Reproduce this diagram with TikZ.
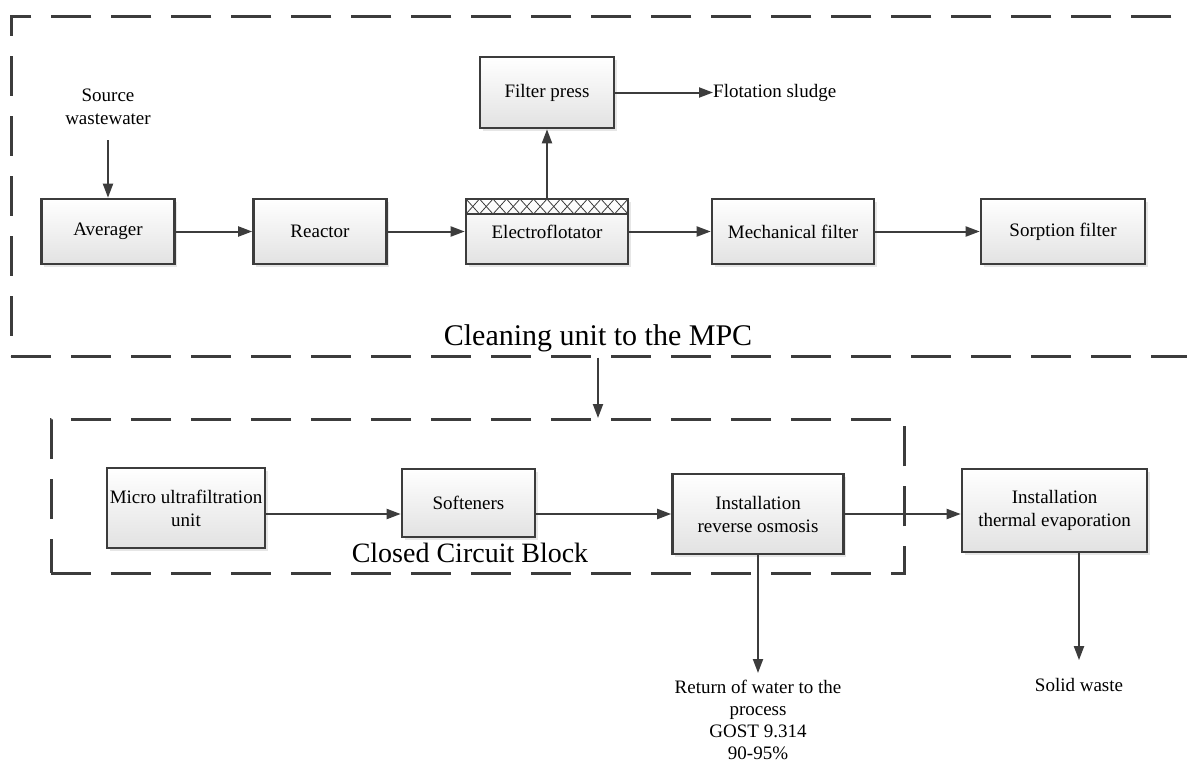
\documentclass[tikz,border=0pt]{standalone}
\usepackage{fontspec}
\setmainfont{Liberation Serif}
\usetikzlibrary{arrows.meta, shadows, positioning}
\definecolor{linegray}{RGB}{60,60,60}
\definecolor{boxgray}{RGB}{226,226,226}
\newcommand{\boxfont}{\fontsize{19}{23}\selectfont}
\newcommand{\zonefont}{\fontsize{28}{32}\selectfont}
\tikzset{
  unit/.style={draw=linegray, line width=2.6pt, top color=white, bottom color=boxgray,
    drop shadow={shadow xshift=2.5pt, shadow yshift=-2.5pt, opacity=.2, fill=gray},
    font=\boxfont, align=center, inner sep=2pt},
  zone/.style={draw=linegray, line width=2.5pt, dash pattern=on 40pt off 20pt,
    anchor=north west, inner sep=0pt},
  flow/.style={draw=linegray, line width=2pt, ->},
  plain/.style={font=\boxfont, align=center, inner sep=1pt}
}
\begin{document}
\begin{tikzpicture}[x=1pt,y=-1pt,>={Triangle[length=14pt,width=10pt]}]
\useasboundingbox (0,0) rectangle (1187,769);
\clip (0,0) rectangle (1187,769);
% dashed regions
\node[zone, minimum width=1220pt, minimum height=340pt] (cleanzone) at (10,15) {};
\node[zone, minimum width=853pt, minimum height=154pt] (closedzone) at (50,418) {};
\node[font=\fontsize{30}{34}\selectfont, inner sep=0pt] (mpc) at (598,338) {Cleaning unit to the MPC};
\node[font=\zonefont, inner sep=0pt] (ccb) at (470,553) {Closed Circuit Block};
% upper line
\node[plain] (source) at (108,107) {Source\\wastewater};
\node[unit, minimum width=133pt, minimum height=65pt] (averager) at (108,231.5) {Averager};
\node[unit, minimum width=133pt, minimum height=65pt] (reactor) at (320,231.5) {Reactor};
\node[unit, minimum width=162pt, minimum height=65pt] (flot) at (547,231.5) {Electroflotator};
\node[unit, minimum width=134pt, minimum height=71pt] (press) at (547,92.5) {Filter press};
\node[plain, anchor=west, inner sep=0pt] (sludge) at (713,92.5) {Flotation sludge};
\node[unit, minimum width=162pt, minimum height=65pt] (mech) at (793,231.5) {Mechanical filter};
\node[unit, minimum width=164pt, minimum height=65pt] (sorp) at (1063,231.5) {Sorption filter};
% hatch band of the electroflotator
\foreach \i in {0,...,11}{
  \draw[linegray, line width=0.8pt] (466+\i*13.5,199) -- ++(13.5,15);
  \draw[linegray, line width=0.8pt] (479.5+\i*13.5,199) -- ++(-13.5,15);
}
\draw[linegray, line width=1.2pt] (466,214) -- (628,214);
% lower line
\node[unit, minimum width=158pt, minimum height=80pt] (micro) at (186,508) {Micro ultrafiltration\\unit};
\node[unit, minimum width=133pt, minimum height=68pt] (soft) at (468.5,503) {Softeners};
\node[unit, minimum width=171pt, minimum height=80pt] (ro) at (758,514) {Installation\\reverse osmosis};
\node[unit, minimum width=185pt, minimum height=83pt] (thermal) at (1054.5,510.5) {Installation\\thermal evaporation};
\node[plain, anchor=north, inner sep=0pt, font=\fontsize{19}{22}\selectfont] (back) at (758,680) {Return of water to the\\process\\GOST 9.314\\90-95\%};
\node[plain] (solid) at (1079,685) {Solid waste};
% connectors
\draw[flow, shorten <=14pt] (source.south) -- (averager.north);
\draw[flow] (averager) -- (reactor);
\draw[flow] (reactor) -- (flot);
\draw[flow] (flot.north) -- (press.south);
\draw[flow] (press) -- (sludge);
\draw[flow] (flot) -- (mech);
\draw[flow] (mech) -- (sorp);
\draw[flow] (cleanzone.south -| mpc) -- (closedzone.north -| mpc);
\draw[flow] (micro.east |- ro.west) -- (soft.west |- ro.west);
\draw[flow] (soft.east |- ro.west) -- (ro.west);
\draw[flow] (ro.east) -- (thermal.west |- ro.east);
\draw[flow, shorten >=7pt] (ro.south) -- (back.north);
\draw[flow, shorten >=17pt] (thermal.south -| solid.north) -- (solid.north);
\end{tikzpicture}
\end{document}
